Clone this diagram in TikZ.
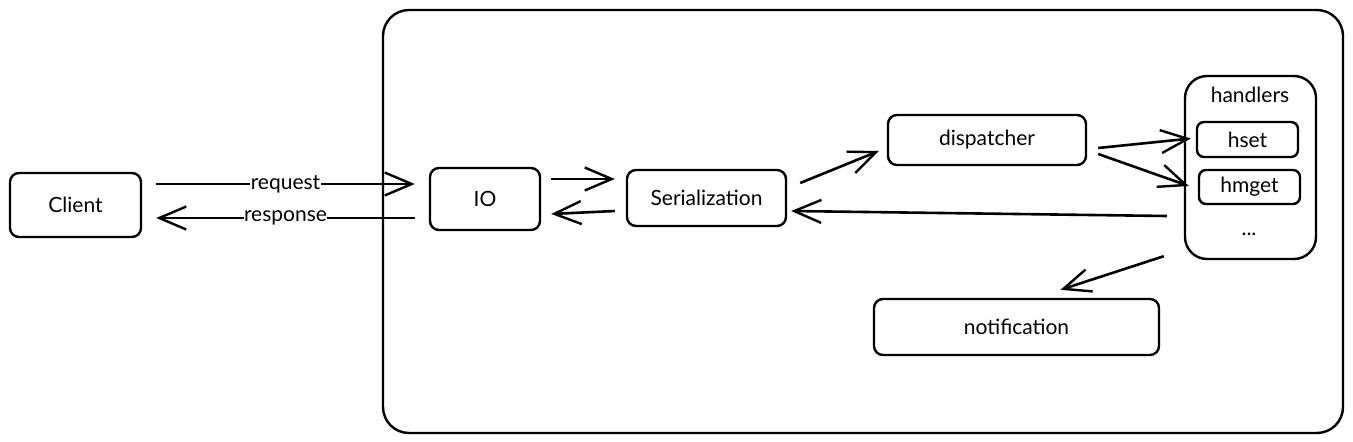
\documentclass[tikz,border=0pt]{standalone}
\usepackage{fontspec}
\setmainfont{Lato}
\usetikzlibrary{arrows.meta}
\begin{document}
\begin{tikzpicture}[x=1pt,y=-1pt,
  txt/.style={font=\fontsize{21}{25}\selectfont},
  box/.style={draw, line width=2.4pt, rounded corners=9pt, inner sep=0pt, txt},
  arr/.style={line width=2.6pt, -{Straight Barb[length=27pt,width=23pt,line width=2.4pt]}},
  lbl/.style={fill=white, inner sep=0.5pt, txt}
]
\useasboundingbox (0,0) rectangle (1353,442);
\node[draw, line width=2.4pt, rounded corners=26pt, minimum width=960pt, minimum height=423pt] (outer) at (863,221.5) {};
\node[box, minimum width=131pt, minimum height=64pt] (client) at (75.5,205) {Client};
\node[box, minimum width=110pt, minimum height=62pt] (io) at (485,199) {IO};
\node[box, minimum width=159pt, minimum height=56pt] (ser) at (706.5,198) {Serialization};
\node[box, minimum width=198pt, minimum height=50pt] (disp) at (987,140) {dispatcher};
\node[box, rounded corners=22pt, minimum width=131pt, minimum height=183pt] (handlers) at (1250.5,167.5) {};
\node[txt] (hl) at (1250,95) {handlers};
\node[box, rounded corners=7pt, minimum width=101pt, minimum height=35pt] (hset) at (1247.5,139.5) {hset};
\node[box, rounded corners=7pt, minimum width=101pt, minimum height=34pt] (hmget) at (1249.5,187) {hmget};
\node[txt] (dots) at (1249,234) {...};
\node[box, minimum width=285pt, minimum height=56pt] (notif) at (1016.5,327) {notification};
% connectors
\draw[arr] ([xshift=14pt,yshift=21pt]client.east) -- node[lbl]{request} ([xshift=-14pt,yshift=15pt]io.west);
\draw[arr] ([xshift=-14pt,yshift=-19pt]io.west) -- node[lbl]{response} ([xshift=14pt,yshift=-13pt]client.east);
\draw[arr] ([xshift=10pt,yshift=20pt]io.east) -- ([xshift=-11pt,yshift=19pt]ser.west);
\draw[arr] ([xshift=-11pt,yshift=-13pt]ser.west) -- ([xshift=10pt,yshift=-15pt]io.east);
\draw[arr] ([xshift=13pt,yshift=15pt]ser.east) -- ([xshift=-8pt,yshift=-11pt]disp.west);
\draw[arr] ([xshift=-17pt,yshift=-48.5pt]handlers.west) -- ([xshift=4pt,yshift=-13pt]ser.east);
\draw[arr] ([xshift=11pt,yshift=-8pt]disp.east) -- ([xshift=-5pt,yshift=1pt]hset.west);
\draw[arr] ([xshift=11pt,yshift=-14pt]disp.east) -- ([xshift=-9pt,yshift=1pt]hmget.west);
\draw[arr] ([xshift=-20pt,yshift=4pt]handlers.south west) -- ([xshift=44pt,yshift=8pt]notif.north);
\end{tikzpicture}
\end{document}
